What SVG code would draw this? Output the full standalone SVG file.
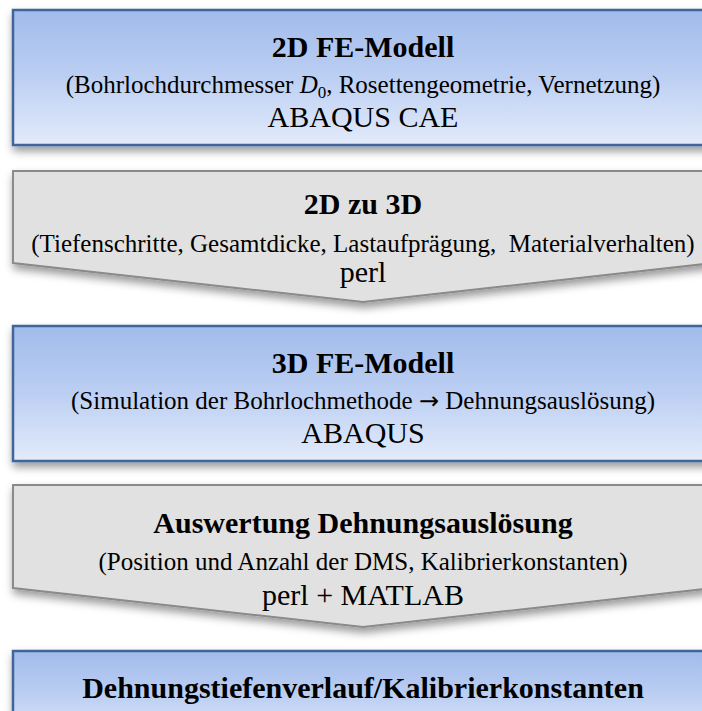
<svg xmlns="http://www.w3.org/2000/svg" width="702" height="711" viewBox="0 0 702 711">
  <defs>
    <linearGradient id="blueFill" x1="0" y1="0" x2="0" y2="1">
      <stop offset="0" stop-color="#a1bbeb"/>
      <stop offset="0.5" stop-color="#bccff3"/>
      <stop offset="1" stop-color="#e3ebfa"/>
    </linearGradient>
    <filter id="shadow" x="-10%" y="-20%" width="120%" height="150%">
      <feDropShadow dx="1" dy="5" stdDeviation="4" flood-color="#000" flood-opacity="0.4"/>
    </filter>
    <style>
      .box { fill: url(#blueFill); stroke: #41659a; stroke-width: 2.5; filter: url(#shadow); }
      .step { fill: #e1e1e1; stroke: #8a8a8a; stroke-width: 2; stroke-linejoin: miter; filter: url(#shadow); }
      .label { fill: #000; text-anchor: middle; }
      .title { font-size: 30px; font-weight: bold; }
      .detail { font-size: 25px; }
      .tool { font-size: 30px; }
      .arrow { font-family: "DejaVu Sans", sans-serif; font-size: 24px; }
    </style>
  </defs>

  <rect width="702" height="711" fill="#ffffff"/>

  <g font-family="'Liberation Serif', 'Times New Roman', 'DejaVu Serif', serif">
    <!-- 2D model -->
    <g id="node-2d-model">
      <rect class="box" x="13" y="10" width="700" height="135"/>
      <text class="label title" x="363" y="57">2D FE-Modell</text>
      <text class="label detail" x="363" y="93">(Bohrlochdurchmesser <tspan font-style="italic">D</tspan><tspan font-size="17" dy="5">0</tspan><tspan dy="-5">, Rosettengeometrie, Vernetzung)</tspan></text>
      <text class="label tool" x="363" y="127">ABAQUS CAE</text>
    </g>

    <!-- conversion step 2D to 3D -->
    <g id="node-2d-to-3d">
      <polygon class="step" points="13,171 713,171 713,263 363,302 13,263"/>
      <text class="label title" x="363" y="214">2D zu 3D</text>
      <text class="label detail" x="363" y="252" font-size="25.5">(Tiefenschritte, Gesamtdicke, Lastaufprägung,&#160; Materialverhalten)</text>
      <text class="label tool" x="363" y="282">perl</text>
    </g>

    <!-- 3D model -->
    <g id="node-3d-model">
      <rect class="box" x="13" y="326" width="700" height="135"/>
      <text class="label title" x="363" y="373">3D FE-Modell</text>
      <text class="label detail" x="363" y="409">(Simulation der Bohrlochmethode <tspan class="arrow">→</tspan> Dehnungsauslösung)</text>
      <text class="label tool" x="363" y="443">ABAQUS</text>
    </g>

    <!-- evaluation step -->
    <g id="node-evaluation">
      <polygon class="step" points="13,485 713,485 713,588 363,627 13,588"/>
      <text class="label title" x="363" y="533">Auswertung Dehnungsauslösung</text>
      <text class="label detail" x="363" y="570">(Position und Anzahl der DMS, Kalibrierkonstanten)</text>
      <text class="label tool" x="363" y="605">perl + MATLAB</text>
    </g>

    <!-- result -->
    <g id="node-result">
      <rect class="box" x="13" y="651" width="700" height="90"/>
      <text class="label title" x="363" y="698">Dehnungstiefenverlauf/Kalibrierkonstanten</text>
    </g>
  </g>

  <g id="connectors"/>
</svg>
